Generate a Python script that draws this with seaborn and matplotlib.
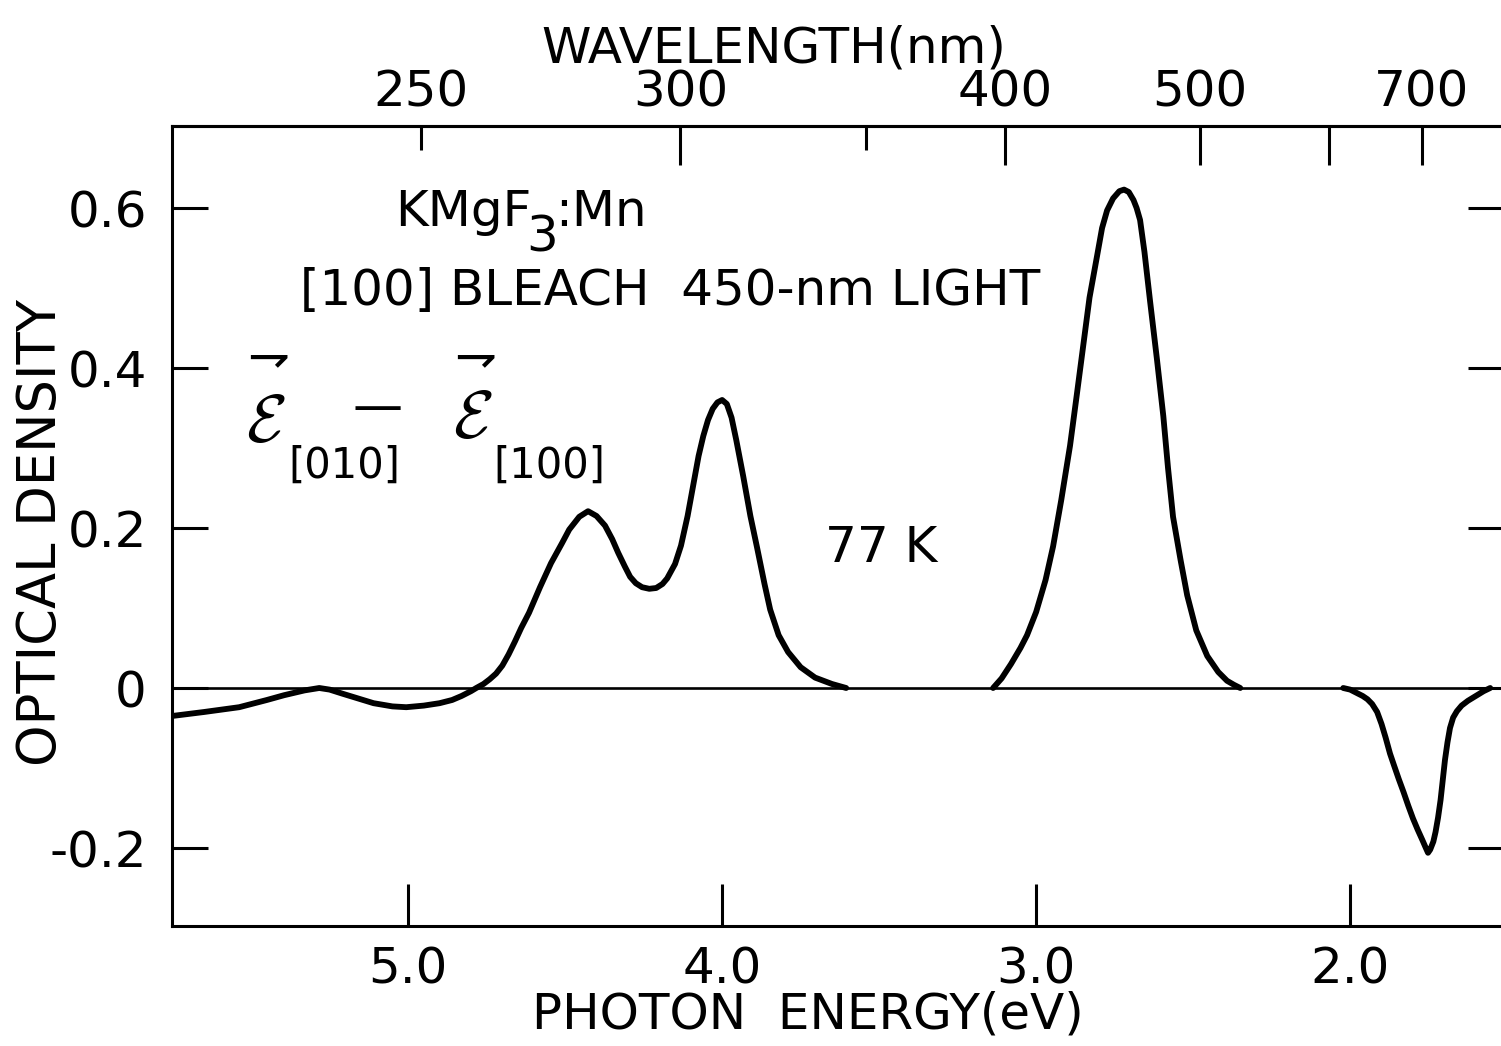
import numpy as np
import pandas as pd
import matplotlib
matplotlib.use("Agg")
import matplotlib.pyplot as plt
import matplotlib.ticker as mticker
import seaborn as sns

# Difference spectrum E[010] - E[100] of KMgF3:Mn after [100] bleach, 77 K
band1_energy = [5.752, 5.65, 5.538, 5.45, 5.395, 5.33, 5.283, 5.25, 5.21, 5.16,
                5.11, 5.05, 5.006, 4.95, 4.9, 4.86, 4.83, 4.80, 4.783, 4.76,
                4.74, 4.72, 4.70, 4.68, 4.66, 4.64, 4.615, 4.58, 4.545, 4.51,
                4.487, 4.455, 4.427, 4.40, 4.373, 4.35, 4.331, 4.31, 4.293, 4.275,
                4.255, 4.232, 4.21, 4.19, 4.175, 4.15, 4.131, 4.11, 4.089, 4.075,
                4.06, 4.045, 4.03, 4.015, 4.0, 3.985, 3.97, 3.955, 3.933, 3.91,
                3.889, 3.865, 3.847, 3.82, 3.79, 3.75, 3.704, 3.65, 3.605]
band1_od = [-0.035, -0.030, -0.024, -0.015, -0.009, -0.003, 0.000, -0.002, -0.007, -0.013,
            -0.019, -0.023, -0.024, -0.022, -0.019, -0.015, -0.010, -0.004, 0.000, 0.005,
            0.011, 0.018, 0.028, 0.042, 0.058, 0.075, 0.094, 0.126, 0.156, 0.181,
            0.198, 0.214, 0.221, 0.215, 0.203, 0.186, 0.169, 0.152, 0.139, 0.131,
            0.126, 0.124, 0.125, 0.130, 0.137, 0.155, 0.178, 0.215, 0.260, 0.290,
            0.315, 0.335, 0.349, 0.357, 0.360, 0.355, 0.338, 0.310, 0.265, 0.215,
            0.176, 0.130, 0.098, 0.066, 0.045, 0.026, 0.013, 0.005, 0.0]

band2_energy = [3.137, 3.11, 3.08, 3.05, 3.029, 3.0, 2.97, 2.946, 2.92, 2.892,
                2.87, 2.85, 2.83, 2.806, 2.79, 2.774, 2.755, 2.735, 2.72, 2.705,
                2.69, 2.68, 2.669, 2.655, 2.637, 2.615, 2.595, 2.58, 2.564, 2.54,
                2.519, 2.49, 2.455, 2.42, 2.392, 2.37, 2.35]
band2_od = [0.0, 0.012, 0.030, 0.050, 0.066, 0.095, 0.135, 0.177, 0.235, 0.303,
            0.368, 0.428, 0.488, 0.540, 0.575, 0.597, 0.612, 0.621, 0.623, 0.620,
            0.610, 0.600, 0.585, 0.545, 0.483, 0.410, 0.340, 0.275, 0.214, 0.160,
            0.116, 0.072, 0.040, 0.020, 0.009, 0.004, 0.0]

band3_energy = [2.022, 2.0, 1.98, 1.96, 1.945, 1.93, 1.914, 1.90, 1.887, 1.873,
                1.86, 1.845, 1.83, 1.815, 1.80, 1.785, 1.77, 1.76, 1.752, 1.745,
                1.735, 1.728, 1.72, 1.712, 1.705, 1.698, 1.69, 1.682, 1.672, 1.66,
                1.645, 1.625, 1.60, 1.575, 1.554]
band3_od = [0.0, -0.002, -0.006, -0.010, -0.014, -0.020, -0.030, -0.045, -0.062, -0.082,
            -0.097, -0.114, -0.130, -0.147, -0.163, -0.177, -0.190, -0.199, -0.206, -0.202,
            -0.192, -0.180, -0.162, -0.140, -0.115, -0.090, -0.068, -0.050, -0.037, -0.029,
            -0.022, -0.016, -0.010, -0.004, 0.0]

energy_ticks = [5.0, 4.0, 3.0, 2.0]
energy_labels = ["5.0", "4.0", "3.0", "2.0"]
od_ticks = [0.6, 0.4, 0.2, 0.0, -0.2]
od_labels = ["0.6", "0.4", "0.2", "0", "-0.2"]
wl_major = [300, 400, 500, 600, 700]
wl_major_labels = ["300", "400", "500", "", "700"]
wl_minor = [250, 350]
wl_minor_labels = ["250", ""]

HC = 1239.84  # eV nm

df = pd.concat([
    pd.DataFrame({"energy": band1_energy, "od": band1_od, "band": 1}),
    pd.DataFrame({"energy": band2_energy, "od": band2_od, "band": 2}),
    pd.DataFrame({"energy": band3_energy, "od": band3_od, "band": 3}),
])

sns.set_style("ticks")
plt.rcParams["font.family"] = ["DejaVu Sans"]
for key in ("text.color", "axes.labelcolor", "xtick.color", "ytick.color",
            "xtick.labelcolor", "ytick.labelcolor", "axes.edgecolor"):
    plt.rcParams[key] = "black"

W, H = 1501, 1046
fig = plt.figure(figsize=(W / 100, H / 100), dpi=100)
fig.patch.set_facecolor("white")
ax = fig.add_axes([172 / W, 1 - 926 / H, (1504 - 172) / W, 800 / H])

sns.lineplot(data=df, x="energy", y="od", units="band", estimator=None,
             color="black", linewidth=4.2, ax=ax, sort=False,
             solid_joinstyle="round", solid_capstyle="round")
ax.axhline(0, color="black", linewidth=1.9, zorder=1)

ax.set_xlim(5.752, 1.510)
ax.set_ylim(-0.2975, 0.7025)

for s in ax.spines.values():
    s.set_linewidth(2.2)
    s.set_color("black")

FS = 36
ax.set_xticks(energy_ticks)
ax.set_xticklabels(energy_labels)
ax.set_yticks(od_ticks)
ax.set_yticklabels(od_labels)
ax.tick_params(axis="x", direction="in", length=30, width=2.2, pad=14,
               labelsize=FS, bottom=True, top=False, colors="black")
ax.tick_params(axis="y", direction="in", length=26, width=2.2, pad=18,
               labelsize=FS, left=True, right=True, colors="black")
ax.set_xlabel("PHOTON  ENERGY(eV)", fontsize=FS, labelpad=-2)
ax.xaxis.label.set_x(0.4775)
ax.set_ylabel("OPTICAL DENSITY", fontsize=38)
ax.yaxis.set_label_coords(-0.079, 0.4925)

# Wavelength scale on top
sec = ax.secondary_xaxis("top", functions=(lambda e: HC / np.asarray(e, float),
                                           lambda l: HC / np.asarray(l, float)))
sec.set_xticks(wl_major)
sec.set_xticklabels(wl_major_labels)
sec.xaxis.set_minor_locator(mticker.FixedLocator(wl_minor))
sec.xaxis.set_minor_formatter(mticker.FixedFormatter(wl_minor_labels))
sec.tick_params(axis="x", which="major", direction="in", length=28, width=2.2,
                pad=7, labelsize=FS, colors="black")
sec.tick_params(axis="x", which="minor", direction="in", length=17, width=2.2,
                pad=7, labelsize=FS, colors="black")
sec.spines["top"].set_linewidth(2.2)
sec.set_xlabel("WAVELENGTH(nm)", fontsize=FS, labelpad=4)
sec.xaxis.label.set_x(0.452)


def ex(px):
    return 5.0 - (px - 408) / 314.0


def oy(py):
    return (688 - py) / 800.0


txt = dict(fontsize=FS, color="black")
ax.text(ex(395), oy(226), "KMgF", ha="left", va="baseline", **txt)
ax.text(ex(526), oy(252), "3", ha="left", va="baseline", **txt)
ax.text(ex(555), oy(226), ":Mn", ha="left", va="baseline", **txt)
ax.text(ex(300), oy(305), "[100] BLEACH  450-nm LIGHT", ha="left", va="baseline", **txt)
ax.text(ex(825), oy(562), "77 K", ha="left", va="baseline", **txt)

# Polarization-difference label: script E with a vector harpoon above
for x_e, y_e, x_sub, sub in ((246, 442, 288, "[010]"), (453, 438, 493, "[100]")):
    ax.text(ex(x_e), oy(y_e), r"$\mathcal{E}$", ha="left", va="baseline",
            fontsize=48, math_fontfamily="cm")
    ax.text(ex(x_e + 22), oy(358), "\u21c1", ha="center", va="center",
            fontsize=36)
    ax.text(ex(x_sub), oy(478), sub, ha="left", va="baseline",
            fontsize=30, color="black")
ax.text(ex(377), oy(408), "\u2014", ha="center", va="center", **txt)

fig.savefig("out.png", dpi=100, facecolor="white")
